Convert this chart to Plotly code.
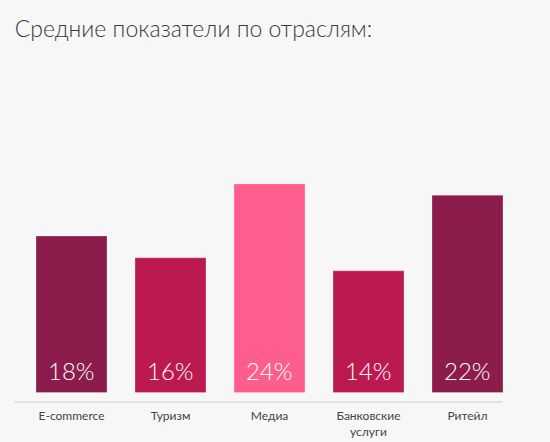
import plotly.graph_objects as go

categories = ["E-commerce", "Туризм", "Медиа", "Банковские<br>услуги", "Ритейл"]
# bar heights as drawn in the picture; labels as printed on the bars
values = [18, 15.5, 24, 14, 22.7]
labels = ["18%", "16%", "24%", "14%", "22%"]
colors = ["#8c1c4c", "#bd1951", "#fd5e8e", "#bd1951", "#8c1c4c"]

fig = go.Figure()
fig.add_trace(go.Bar(
    x=categories,
    y=values,
    marker=dict(color=colors, line=dict(color="rgba(255,255,255,0.25)", width=1)),
    hoverinfo="skip",
))

# percentage labels near the bottom of each bar
for cat, lab in zip(categories, labels):
    fig.add_annotation(
        x=cat, y=0, text=lab, showarrow=False,
        yanchor="bottom", yshift=6,
        font=dict(family="Lato", size=24, color="white", weight=300),
    )

# baseline under the bars
fig.add_shape(
    type="line", xref="paper", yref="paper",
    x0=-0.016, x1=0.97, y0=0, y1=0,
    line=dict(color="#cccccc", width=1),
)

fig.update_layout(
    width=550, height=442,
    margin=dict(l=22, r=33, t=100, b=40),
    paper_bgcolor="#f7f7f7",
    plot_bgcolor="#f7f7f7",
    bargap=0.283,
    showlegend=False,
    title=dict(
        text="Средние показатели по отраслям:",
        x=0.027, xanchor="left", y=0.934, yanchor="middle",
        font=dict(family="Lato", size=23, color="#3a3a3a", weight=300),
    ),
    font=dict(family="Lato", size=12, color="#333333"),
)
fig.update_xaxes(showgrid=False, showline=False, ticks="", ticklabelstandoff=5,
                 automargin=False, tickfont=dict(size=12, color="#444444"))
fig.update_yaxes(range=[-1.09, 33.65], visible=False)

# drop the default page margin so the figure fills the window
fig.write_html("out.html", config={"displayModeBar": False},
               post_script="document.body.style.margin='0';")
